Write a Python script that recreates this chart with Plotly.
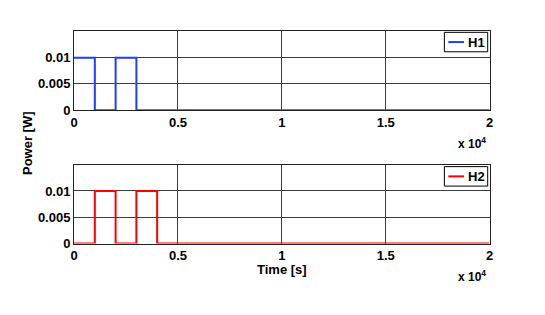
import plotly.graph_objects as go

# Data (time in seconds, power in W)
h1_time = [0, 1000, 1000, 2000, 2000, 3000, 3000, 20000]
h1_power = [0.01, 0.01, 0, 0, 0.01, 0.01, 0, 0]
h2_time = [0, 1000, 1000, 2000, 2000, 3000, 3000, 4000, 4000, 20000]
h2_power = [0, 0, 0.01, 0.01, 0, 0, 0.01, 0.01, 0, 0]

x_tickvals = [0, 5000, 10000, 15000, 20000]
x_ticktext = ["0", "0.5", "1", "1.5", "2"]
y_tickvals = [0, 0.005, 0.01]
y_ticktext = ["0", "0.005", "0.01"]
series_names = ["H1", "H2"]
series_colors = ["#1f3dff", "#ff0000"]

FONT = "Liberation Sans, Arial, Helvetica, sans-serif"
OFF = 8  # page body margin
W, H = 545 - 2 * OFF, 315 - 2 * OFF


def px(x):
    return (x - OFF) / W


def py(y):
    return 1 - (y - OFF) / H


xd = [px(71), px(493)]
top_dom = [py(113), py(32)]
bot_dom = [py(250), py(169)]

fig = go.Figure()
fig.add_trace(go.Scatter(x=h1_time, y=h1_power, mode="lines", name=series_names[0],
                         line=dict(color=series_colors[0], width=2), xaxis="x", yaxis="y"))
fig.add_trace(go.Scatter(x=h2_time, y=h2_power, mode="lines", name=series_names[1],
                         line=dict(color=series_colors[1], width=2), xaxis="x2", yaxis="y2"))

bold = lambda lst: ["<b>%s</b>" % t for t in lst]

axis_common = dict(showline=True, linecolor="#222222", linewidth=1, mirror=True,
                   showgrid=True, gridcolor="#3c3c3c", gridwidth=1, zeroline=False,
                   ticks="", tickfont=dict(family=FONT, size=13, color="black"))

fig.update_layout(
    width=W, height=H,
    margin=dict(l=0, r=0, t=0, b=0),
    paper_bgcolor="white", plot_bgcolor="white",
    font=dict(family=FONT, size=13, color="black"),
    showlegend=False,
    xaxis=dict(domain=xd, range=[0, 20000], tickvals=x_tickvals, ticktext=bold(x_ticktext),
               anchor="y", **axis_common),
    yaxis=dict(domain=top_dom, range=[0, 0.015], tickvals=y_tickvals,
               ticktext=bold(y_ticktext), anchor="x", **axis_common),
    xaxis2=dict(domain=xd, range=[0, 20000], tickvals=x_tickvals, ticktext=bold(x_ticktext),
                anchor="y2", **axis_common),
    yaxis2=dict(domain=bot_dom, range=[0, 0.015], tickvals=y_tickvals,
                ticktext=bold(y_ticktext), anchor="x2", **axis_common),
)

shapes = []
annotations = []
# Legend boxes (MATLAB style, inside top-right corner of each axes)
for name, color, top in zip(series_names, series_colors, [33, 171]):
    shapes.append(dict(type="rect", xref="paper", yref="paper",
                       x0=px(447), x1=px(491), y0=py(top + 20), y1=py(top),
                       line=dict(color="black", width=1), fillcolor="white", layer="above"))
    shapes.append(dict(type="line", xref="paper", yref="paper",
                       x0=px(451), x1=px(467), y0=py(top + 10), y1=py(top + 10),
                       line=dict(color=color, width=2), layer="above"))
    annotations.append(dict(text="<b>%s</b>" % name, x=px(469), y=py(top + 10),
                            xref="paper", yref="paper", xanchor="left", yanchor="middle",
                            showarrow=False, font=dict(size=13, color="black")))

annotations += [
    dict(text="<b>x 10<sup>4</sup></b>", x=px(491), y=py(147), xref="paper", yref="paper",
         xanchor="right", yanchor="middle", showarrow=False, font=dict(size=12)),
    dict(text="<b>x 10<sup>4</sup></b>", x=px(491), y=py(283), xref="paper", yref="paper",
         xanchor="right", yanchor="middle", showarrow=False, font=dict(size=12)),
    dict(text="<b>Power [W]</b>", x=px(24), y=py(147), xref="paper", yref="paper",
         xanchor="center", yanchor="middle", textangle=-90, showarrow=False,
         font=dict(size=13)),
    dict(text="<b>Time [s]</b>", x=px(282), y=py(277), xref="paper",
         yref="paper", xanchor="center", yanchor="middle", showarrow=False,
         font=dict(size=13)),
]
fig.update_layout(shapes=shapes, annotations=annotations)

fig.write_html("out.html")
